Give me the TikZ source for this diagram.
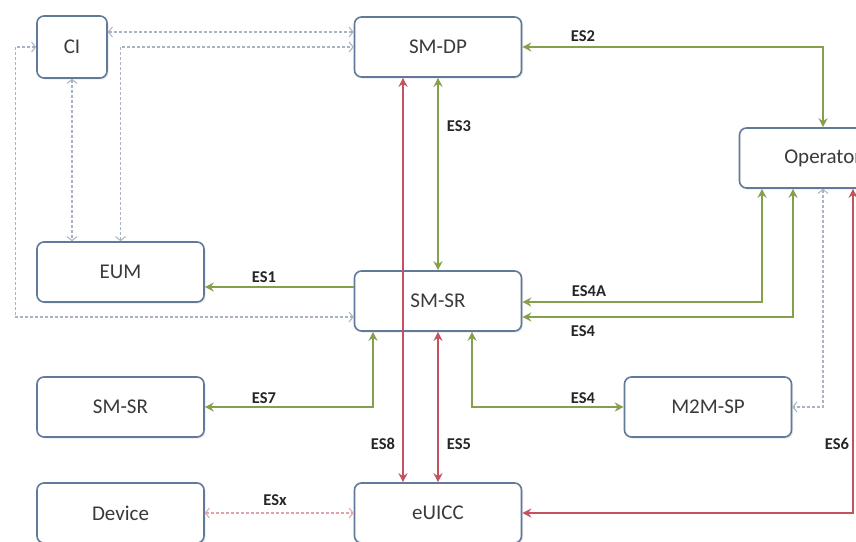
\documentclass[tikz,border=0pt]{standalone}
\usepackage{fontspec}
\setmainfont{Carlito}
\usetikzlibrary{arrows.meta,shadows}
\definecolor{gline}{HTML}{84A04C}
\definecolor{rline}{HTML}{C4515E}
\definecolor{dashc}{HTML}{A8B3C4}
\definecolor{pdash}{HTML}{E3A3AC}
\definecolor{boxc}{HTML}{62799A}
\definecolor{txtc}{HTML}{3A3A3A}
\begin{document}
\begin{tikzpicture}[x=1pt,y=-1pt,
  box/.style={draw=boxc, line width=1.6pt, rounded corners=7pt, fill=white,
    minimum width=167pt, minimum height=60pt, inner sep=0pt,
    font=\fontsize{21}{24}\selectfont, text=txtc,
    drop shadow={shadow xshift=1.5pt, shadow yshift=-1.5pt, opacity=0.18}},
  gtip/.tip={Stealth[length=9pt,width=9pt,inset=3pt]},
  dtip/.tip={Straight Barb[length=4pt,width=10pt,line width=1pt]},
  gl/.style={draw=gline, line width=2.6pt, gtip-gtip},
  gls/.style={draw=gline, line width=2.6pt, -gtip},
  rl/.style={draw=rline, line width=2.6pt, gtip-gtip},
  dz/.style={draw=dashc, line width=1.2pt, dash pattern=on 3pt off 2pt, dtip-dtip},
  pz/.style={draw=pdash, line width=1.2pt, dash pattern=on 3pt off 2pt, dtip-dtip},
  lbl/.style={font=\bfseries\fontsize{16.5}{18}\selectfont, text=black!85, inner sep=0pt}
]
\useasboundingbox (0,0) rectangle (856,541);
\clip (0,0) rectangle (856,541);
\fill[white] (0,0) rectangle (856,541);

% boxes
\node[box, minimum width=70pt, minimum height=62pt] (CI) at (72,47) {CI};
\node[box] (SMDP) at (438,47) {SM-DP};
\node[box] (Operator) at (823,158) {Operator};
\node[box] (EUM) at (120.5,272) {EUM};
\node[box] (SMSR) at (438,301) {SM-SR};
\node[box] (SMSR2) at (120.5,407) {SM-SR};
\node[box] (M2MSP) at (708,407) {M2M-SP};
\node[box] (Device) at (120.5,513) {Device};
\node[box] (eUICC) at (438,513) {eUICC};

% dashed connectors
\coordinate (ciT) at ([yshift=15pt]CI.east);
\draw[dz] (ciT) -- (ciT -| SMDP.west);
\draw[dz] (EUM.north) |- (SMDP.west);
\draw[dz] (CI.south) -- (CI.south |- EUM.north);
\coordinate (ciL) at ([xshift=-21pt]CI.west);
\draw[dz] (CI.west) -- (ciL) |- ([yshift=-16pt]SMSR.west);
\draw[dz] (Operator.south) |- (M2MSP.east);
\draw[pz] (Device.east) -- (eUICC.west);

% green connectors
\draw[gl] (SMDP.east) -| (Operator.north);
\draw[gl] (SMDP.south) -- (SMSR.north);
\coordinate (s1) at ([yshift=14pt]SMSR.west);
\draw[gls] (s1) -- (s1 -| EUM.east);
\draw[gl] ([yshift=-1pt]SMSR.east) -| ([xshift=-61pt]Operator.south);
\draw[gl] ([yshift=-16pt]SMSR.east) -| ([xshift=-30pt]Operator.south);
\draw[gl] ([xshift=-65pt]SMSR.south) |- (SMSR2.east);
\draw[gl] ([xshift=34pt]SMSR.south) |- (M2MSP.west);

% red connectors
\draw[rl] ([xshift=-35pt]SMDP.south) -- ([xshift=-35pt]eUICC.north);
\draw[rl] (SMSR.south) -- (eUICC.north);
\draw[rl] ([xshift=30pt]Operator.south) |- (eUICC.east);

% labels
\node[lbl] (l2) at (583,36) {ES2};
\node[lbl] (l3) at (459,126) {ES3};
\node[lbl] (l1) at (264,277) {ES1};
\node[lbl] (l4a) at (589,291) {ES4A};
\node[lbl] (l4) at (583,331) {ES4};
\node[lbl] (l7) at (264,398) {ES7};
\node[lbl] (l4b) at (583,398) {ES4};
\node[lbl] (l8) at (383,444) {ES8};
\node[lbl] (l5) at (459,444) {ES5};
\node[lbl] (l6) at (837,444) {ES6};
\node[lbl] (lx) at (275,500) {ESx};
\end{tikzpicture}
\end{document}
